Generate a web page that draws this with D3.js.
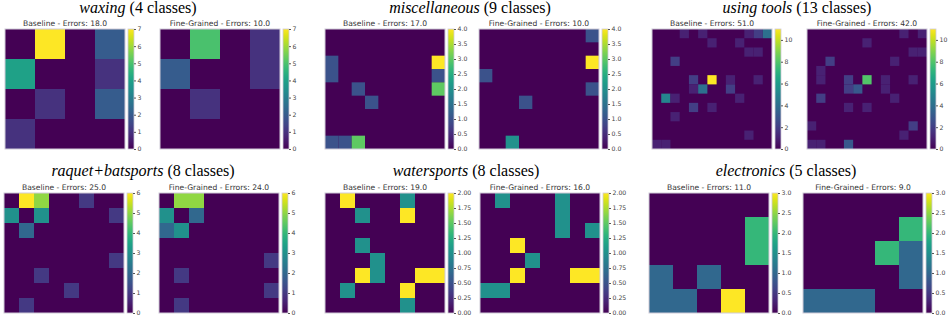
<!DOCTYPE html>
<html>
<head>
<meta charset="utf-8">
<style>
    body { margin: 0; background: #fff; }
    svg { display: block; }
    .tick line { stroke: #555; }
    .tick text { fill: #444; font-family: 'DejaVu Sans', sans-serif; }
</style>
</head>
<body>
<svg width="951" height="319"></svg>

<script src="https://d3js.org/d3.v7.min.js"></script>
<script>
// ---- data ----
const groupNames = ["waxing", "miscellaneous", "using tools", "raquet+batsports", "watersports", "electronics"];
const classCounts = [4, 9, 13, 8, 8, 5];
const baselineErrors = [18, 17, 51, 25, 19, 11];
const fineErrors = [10, 10, 42, 24, 16, 9];
const colorMax = [7, 4, 11, 6, 2, 3];
const tickSteps = [1, 0.5, 2, 1, 0.25, 0.5];
const tickFormats = ["d", ".1f", "d", "d", ".2f", ".1f"];

const waxingBaseline = [
    [0, 7, 0, 2],
    [4, 0, 0, 1],
    [0, 1, 0, 2],
    [1, 0, 0, 0]
];
const waxingFine = [
    [0, 5, 0, 1],
    [2, 0, 0, 1],
    [0, 1, 0, 0],
    [0, 0, 0, 0]
];

const miscBaseline = [
    [0, 0, 0, 0, 0, 0, 0, 0, 0],
    [0, 0, 0, 0, 0, 0, 0, 0, 0],
    [1, 0, 0, 0, 0, 0, 0, 0, 4],
    [1, 0, 0, 0, 0, 0, 0, 0, 1],
    [0, 0, 1, 0, 0, 0, 0, 0, 3],
    [0, 0, 0, 1, 0, 0, 0, 0, 0],
    [0, 0, 0, 0, 0, 0, 0, 0, 0],
    [0, 0, 0, 0, 0, 0, 0, 0, 0],
    [1, 1, 3, 0, 0, 0, 0, 0, 0]
];
const miscFine = [
    [0, 0, 0, 0, 0, 0, 0, 0, 1],
    [0, 0, 0, 0, 0, 0, 0, 0, 0],
    [0, 0, 0, 0, 0, 0, 0, 0, 4],
    [1, 0, 0, 0, 0, 0, 0, 0, 0],
    [0, 0, 0, 0, 0, 0, 0, 0, 1],
    [0, 0, 0, 1, 0, 0, 0, 0, 0],
    [0, 0, 0, 0, 0, 0, 0, 0, 0],
    [0, 0, 0, 0, 0, 0, 0, 0, 0],
    [0, 0, 2, 0, 0, 0, 0, 0, 0]
];

const toolsBaseline = [
    [0, 0, 0, 1, 0, 1, 0, 0, 0, 0, 1, 2, 4],
    [0, 0, 0, 0, 0, 0, 1, 0, 0, 1, 0, 0, 0],
    [0, 0, 0, 0, 0, 0, 0, 0, 0, 0, 1, 1, 0],
    [0, 0, 2, 0, 0, 0, 0, 0, 0, 0, 0, 0, 0],
    [0, 0, 0, 0, 0, 0, 0, 0, 0, 0, 0, 0, 0],
    [0, 0, 0, 0, 2, 0, 11, 0, 1, 0, 0, 1, 0],
    [0, 0, 0, 0, 1, 4, 0, 0, 2, 0, 0, 0, 0],
    [0, 5, 1, 0, 0, 0, 0, 0, 0, 1, 0, 0, 0],
    [0, 0, 0, 0, 2, 0, 1, 0, 0, 0, 0, 0, 0],
    [0, 0, 1, 0, 0, 0, 0, 0, 0, 0, 0, 0, 0],
    [0, 0, 0, 0, 0, 0, 0, 0, 0, 0, 0, 0, 0],
    [0, 0, 0, 0, 0, 0, 0, 0, 0, 0, 1, 0, 0],
    [1, 1, 0, 0, 0, 0, 0, 0, 0, 0, 0, 0, 0]
];
const toolsFine = [
    [0, 0, 0, 0, 0, 0, 0, 0, 0, 0, 1, 0, 1],
    [0, 0, 0, 0, 0, 0, 1, 0, 0, 0, 0, 0, 0],
    [0, 0, 0, 0, 0, 0, 0, 0, 0, 0, 0, 1, 1],
    [0, 0, 2, 0, 0, 0, 0, 0, 0, 1, 0, 0, 0],
    [0, 1, 0, 0, 0, 0, 0, 0, 0, 0, 0, 0, 0],
    [0, 1, 0, 0, 2, 0, 8, 0, 1, 0, 0, 1, 0],
    [0, 0, 0, 0, 2, 3, 0, 0, 1, 0, 0, 0, 0],
    [0, 2, 0, 0, 0, 0, 0, 0, 0, 1, 0, 0, 0],
    [0, 0, 0, 0, 1, 0, 1, 0, 0, 0, 0, 0, 0],
    [0, 0, 0, 0, 0, 0, 0, 0, 0, 0, 0, 0, 0],
    [1, 0, 0, 0, 0, 0, 0, 0, 0, 0, 0, 2, 0],
    [0, 0, 0, 0, 0, 0, 0, 0, 0, 0, 1, 0, 0],
    [1, 1, 0, 0, 3, 0, 0, 0, 0, 0, 0, 0, 0]
];

const racquetBaseline = [
    [0, 6, 5, 0, 0, 1, 0, 0],
    [3, 0, 3, 0, 0, 0, 0, 1],
    [0, 2, 0, 0, 0, 0, 0, 0],
    [0, 0, 0, 0, 0, 0, 0, 0],
    [0, 0, 0, 0, 0, 0, 0, 1],
    [0, 0, 1, 0, 0, 0, 0, 0],
    [0, 0, 0, 0, 1, 0, 0, 0],
    [0, 1, 0, 0, 0, 0, 0, 0]
];
const racquetFine = [
    [0, 5, 5, 0, 0, 0, 0, 0],
    [3, 0, 2, 0, 0, 0, 0, 0],
    [2, 3, 0, 0, 0, 0, 0, 0],
    [0, 0, 0, 0, 0, 0, 0, 0],
    [0, 0, 0, 0, 0, 0, 0, 1],
    [0, 1, 0, 0, 0, 0, 0, 0],
    [0, 0, 0, 0, 0, 0, 0, 1],
    [0, 1, 0, 0, 0, 0, 0, 0]
];

const waterBaseline = [
    [0, 2, 0, 0, 0, 1, 0, 0],
    [0, 0, 1, 0, 0, 2, 0, 0],
    [0, 0, 0, 0, 0, 0, 0, 0],
    [0, 0, 1, 0, 0, 0, 0, 0],
    [0, 0, 0, 1, 0, 0, 0, 0],
    [0, 0, 2, 1, 0, 0, 2, 2],
    [0, 1, 0, 0, 0, 2, 0, 0],
    [0, 0, 0, 0, 0, 1, 0, 0]
];
const waterFine = [
    [0, 1, 0, 0, 0, 1, 0, 0],
    [0, 0, 0, 0, 0, 1, 0, 0],
    [0, 0, 0, 0, 0, 1, 0, 1],
    [0, 0, 2, 0, 0, 0, 0, 0],
    [0, 0, 0, 1, 0, 0, 0, 0],
    [0, 0, 2, 0, 0, 0, 2, 2],
    [1, 1, 0, 0, 0, 0, 0, 0],
    [0, 0, 0, 0, 0, 0, 0, 0]
];

const electronicsBaseline = [
    [0, 0, 0, 0, 0],
    [0, 0, 0, 0, 2],
    [0, 0, 0, 0, 2],
    [1, 0, 1, 0, 0],
    [1, 1, 0, 3, 0]
];
const electronicsFine = [
    [0, 0, 0, 0, 0],
    [0, 0, 0, 0, 2],
    [0, 0, 0, 2, 1],
    [0, 0, 0, 0, 1],
    [1, 1, 1, 0, 0]
];

const baselineMatrices = [waxingBaseline, miscBaseline, toolsBaseline, racquetBaseline, waterBaseline, electronicsBaseline];
const fineMatrices = [waxingFine, miscFine, toolsFine, racquetFine, waterFine, electronicsFine];

// ---- layout ----
let size = 120;      // heatmap side
let cbGap = 3;       // heatmap -> colorbar
let cbWidth = 6;
let baseX = [5, 325, 652, 4, 325, 649];
let fineX = [160, 479, 807, 159, 480, 803];
let rowTop = [29, 29, 29, 193, 193, 193];
let titleY = [12.5, 12.5, 12.5, 175.5, 175.5, 175.5];
let titleX = [138, 470, 797, 143, 466, 786];

let svg = d3.select("svg");

let defs = svg.append("defs");
let grad = defs.append("linearGradient")
    .attr("id", "viridis")
    .attr("x1", 0).attr("y1", 1).attr("x2", 0).attr("y2", 0);
d3.range(0, 1.0001, 0.05).forEach(t => {
    grad.append("stop")
        .attr("offset", t)
        .attr("stop-color", d3.interpolateViridis(t));
});

function drawPanel(x0, y0, matrix, vmax, label, errors, step, fmt) {
    let n = matrix.length;
    let g = svg.append("g").attr("transform", `translate(${x0},${y0})`);

    let band = d3.scaleBand().domain(d3.range(n)).range([0, size]);
    let color = d3.scaleSequential(d3.interpolateViridis).domain([0, vmax]);

    let cells = [];
    matrix.forEach((row, r) => row.forEach((v, c) => cells.push({ r, c, v })));

    // background in the zero colour so seams between cells don't show
    g.append("rect")
        .attr("width", size).attr("height", size)
        .attr("fill", color(0));

    g.append("g")
        .selectAll("rect")
        .data(cells.filter(d => d.v > 0))
        .join("rect")
        .attr("x", d => band(d.c))
        .attr("y", d => band(d.r))
        .attr("width", band.bandwidth())
        .attr("height", band.bandwidth())
        .attr("fill", d => color(d.v));

    g.append("rect")
        .attr("width", size).attr("height", size)
        .attr("fill", "none")
        .attr("stroke", "#d0cbd8")
        .attr("stroke-width", 1);

    g.append("text")
        .attr("x", size / 2)
        .attr("y", -3)
        .attr("text-anchor", "middle")
        .style("font-family", "'DejaVu Sans', sans-serif")
        .style("font-size", "7.6px")
        .style("fill", "#333")
        .text(`${label} - Errors: ${errors.toFixed(1)}`);

    // colorbar
    let cb = g.append("g").attr("transform", `translate(${size + cbGap},0)`);
    cb.append("rect")
        .attr("width", cbWidth).attr("height", size)
        .attr("fill", "url(#viridis)")
        .attr("stroke", "#d0cbd8")
        .attr("stroke-width", 0.8);

    let y = d3.scaleLinear().domain([0, vmax]).range([size, 0]);
    let cbAxis = d3.axisRight(y)
        .tickValues(d3.range(0, vmax + 1e-6, step))
        .tickSize(2)
        .tickPadding(1.5)
        .tickFormat(d3.format(fmt));

    cb.append("g")
        .attr("transform", `translate(${cbWidth},0)`)
        .call(cbAxis)
        .style("font-size", "6.2px")
        .call(a => a.select(".domain").remove());
}

groupNames.forEach((name, i) => {
    let t = svg.append("text")
        .attr("x", titleX[i])
        .attr("y", titleY[i])
        .attr("text-anchor", "middle")
        .style("font-family", "'Liberation Serif', serif")
        .style("font-size", "16px")
        .style("fill", "#000");
    t.append("tspan").style("font-style", "italic").text(name);
    t.append("tspan").text(` (${classCounts[i]} classes)`);

    drawPanel(baseX[i], rowTop[i], baselineMatrices[i], colorMax[i], "Baseline", baselineErrors[i], tickSteps[i], tickFormats[i]);
    drawPanel(fineX[i], rowTop[i], fineMatrices[i], colorMax[i], "Fine-Grained", fineErrors[i], tickSteps[i], tickFormats[i]);
});
</script>
</body>
</html>
